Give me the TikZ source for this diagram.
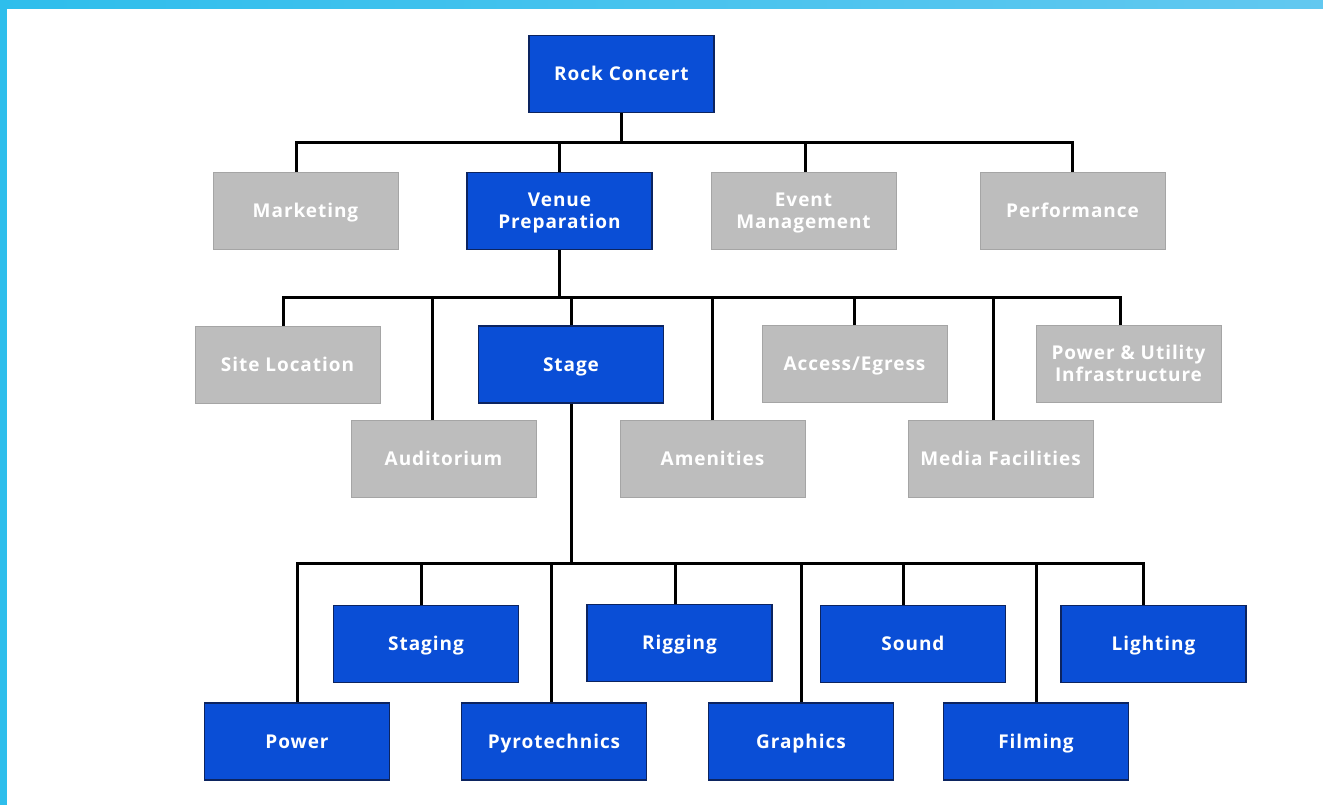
\documentclass[tikz,border=0pt]{standalone}
\usepackage{fontspec}
\setmainfont{Open Sans}[LetterSpace=5]
\usepackage{tikz}
\usetikzlibrary{calc}
\definecolor{wbsblue}{RGB}{10,78,214}
\definecolor{wbsedge}{RGB}{12,36,96}
\definecolor{wbsgrey}{RGB}{189,189,189}
\definecolor{wbsgreyedge}{RGB}{165,165,165}
\definecolor{bandA}{RGB}{46,190,236}
\definecolor{bandB}{RGB}{98,200,240}
\tikzset{
	wbs/.style={minimum width=185pt, minimum height=77pt, inner sep=0pt, align=center, text=white, text height=14pt, text depth=1pt, font=\fontsize{19}{22}\selectfont\bfseries},
	twoline/.style={text height=36pt},
	bluebox/.style={wbs, fill=wbsblue, draw=wbsedge, line width=1.4pt},
	greybox/.style={wbs, fill=wbsgrey, draw=wbsgreyedge, line width=1pt},
	wire/.style={line width=3pt, black}
}

\begin{document}
\begin{tikzpicture}[x=1pt, y=-1pt]
			%%%%% FRAME %%%%%
			\useasboundingbox (0, 0) rectangle (1323, 805);
			\fill[white] (0, 0) rectangle (1323, 805);
			\fill[bandA] (0, 0) rectangle (7, 805);
			\shade[left color=bandA, right color=bandB] (0, 0) rectangle (1323, 9);
			
			%%%%% BOXES %%%%%
			\node[bluebox] (rock) at (621.5, 74) {Rock Concert};
			
			\node[greybox] (marketing) at (305.5, 211) {Marketing};
			\node[bluebox, twoline] (venue) at (559.5, 211) {Venue\\Preparation};
			\node[greybox, twoline] (event) at (803.5, 211) {Event\\Management};
			\node[greybox] (perform) at (1072.5, 211) {Performance};
			
			\node[greybox] (site) at (287.5, 364.5) {Site Location};
			\node[bluebox] (stage) at (571, 364.5) {Stage};
			\node[greybox] (access) at (854.5, 364) {Access/Egress};
			\node[greybox, twoline] (utility) at (1128.5, 364) {Power \& Utility\\Infrastructure};
			\node[greybox] (audit) at (443.5, 459) {Auditorium};
			\node[greybox] (amenity) at (712.5, 459) {Amenities};
			\node[greybox] (media) at (1000.5, 459) {Media Facilities};
			
			\node[bluebox] (staging) at (426, 644) {Staging};
			\node[bluebox] (rigging) at (679.5, 643) {Rigging};
			\node[bluebox] (sound) at (913, 644) {Sound};
			\node[bluebox] (lighting) at (1153.5, 644) {Lighting};
			\node[bluebox] (power) at (297, 741.5) {Power};
			\node[bluebox] (pyro) at (554, 741.5) {Pyrotechnics};
			\node[bluebox] (graphics) at (801, 741.5) {Graphics};
			\node[bluebox] (filming) at (1036, 741.5) {Filming};
			
			%%%%% WIRES %%%%%
			\coordinate (busA) at (0, 143);
			\coordinate (busB) at (0, 297);
			\coordinate (busC) at (0, 563);
			
			\draw[wire] (rock.south) -- (rock.south |- busA);
			\draw[wire, line cap=rect] ([xshift=-9pt]marketing.north |- busA) -- (perform.north |- busA);
			\draw[wire] ([xshift=-9pt]marketing.north) -- ([xshift=-9pt]marketing.north |- busA);
			\draw[wire] (venue.north) -- (venue.north |- busA);
			\draw[wire] ([xshift=2pt]event.north) -- ([xshift=2pt]event.north |- busA);
			\draw[wire] (perform.north) -- (perform.north |- busA);
			
			\draw[wire] (venue.south) -- (venue.south |- busB);
			\draw[wire, line cap=rect] ([xshift=-4pt]site.north |- busB) -- ([xshift=-8pt]utility.north |- busB);
			\draw[wire] ([xshift=-4pt]site.north) -- ([xshift=-4pt]site.north |- busB);
			\draw[wire] ([xshift=-11pt]audit.north) -- ([xshift=-11pt]audit.north |- busB);
			\draw[wire] (stage.north) -- (stage.north |- busB);
			\draw[wire] (amenity.north) -- (amenity.north |- busB);
			\draw[wire] (access.north) -- (access.north |- busB);
			\draw[wire] ([xshift=-7pt]media.north) -- ([xshift=-7pt]media.north |- busB);
			\draw[wire] ([xshift=-8pt]utility.north) -- ([xshift=-8pt]utility.north |- busB);
			
			\draw[wire] (stage.south) -- (stage.south |- busC);
			\draw[wire, line cap=rect] (power.north |- busC) -- ([xshift=-10pt]lighting.north |- busC);
			\draw[wire] (power.north) -- (power.north |- busC);
			\draw[wire] ([xshift=-5pt]staging.north) -- ([xshift=-5pt]staging.north |- busC);
			\draw[wire] ([xshift=-3pt]pyro.north) -- ([xshift=-3pt]pyro.north |- busC);
			\draw[wire] ([xshift=-4pt]rigging.north) -- ([xshift=-4pt]rigging.north |- busC);
			\draw[wire] (graphics.north) -- (graphics.north |- busC);
			\draw[wire] ([xshift=-10pt]sound.north) -- ([xshift=-10pt]sound.north |- busC);
			\draw[wire] (filming.north) -- (filming.north |- busC);
			\draw[wire] ([xshift=-10pt]lighting.north) -- ([xshift=-10pt]lighting.north |- busC);
			
		\end{tikzpicture}
\end{document}
